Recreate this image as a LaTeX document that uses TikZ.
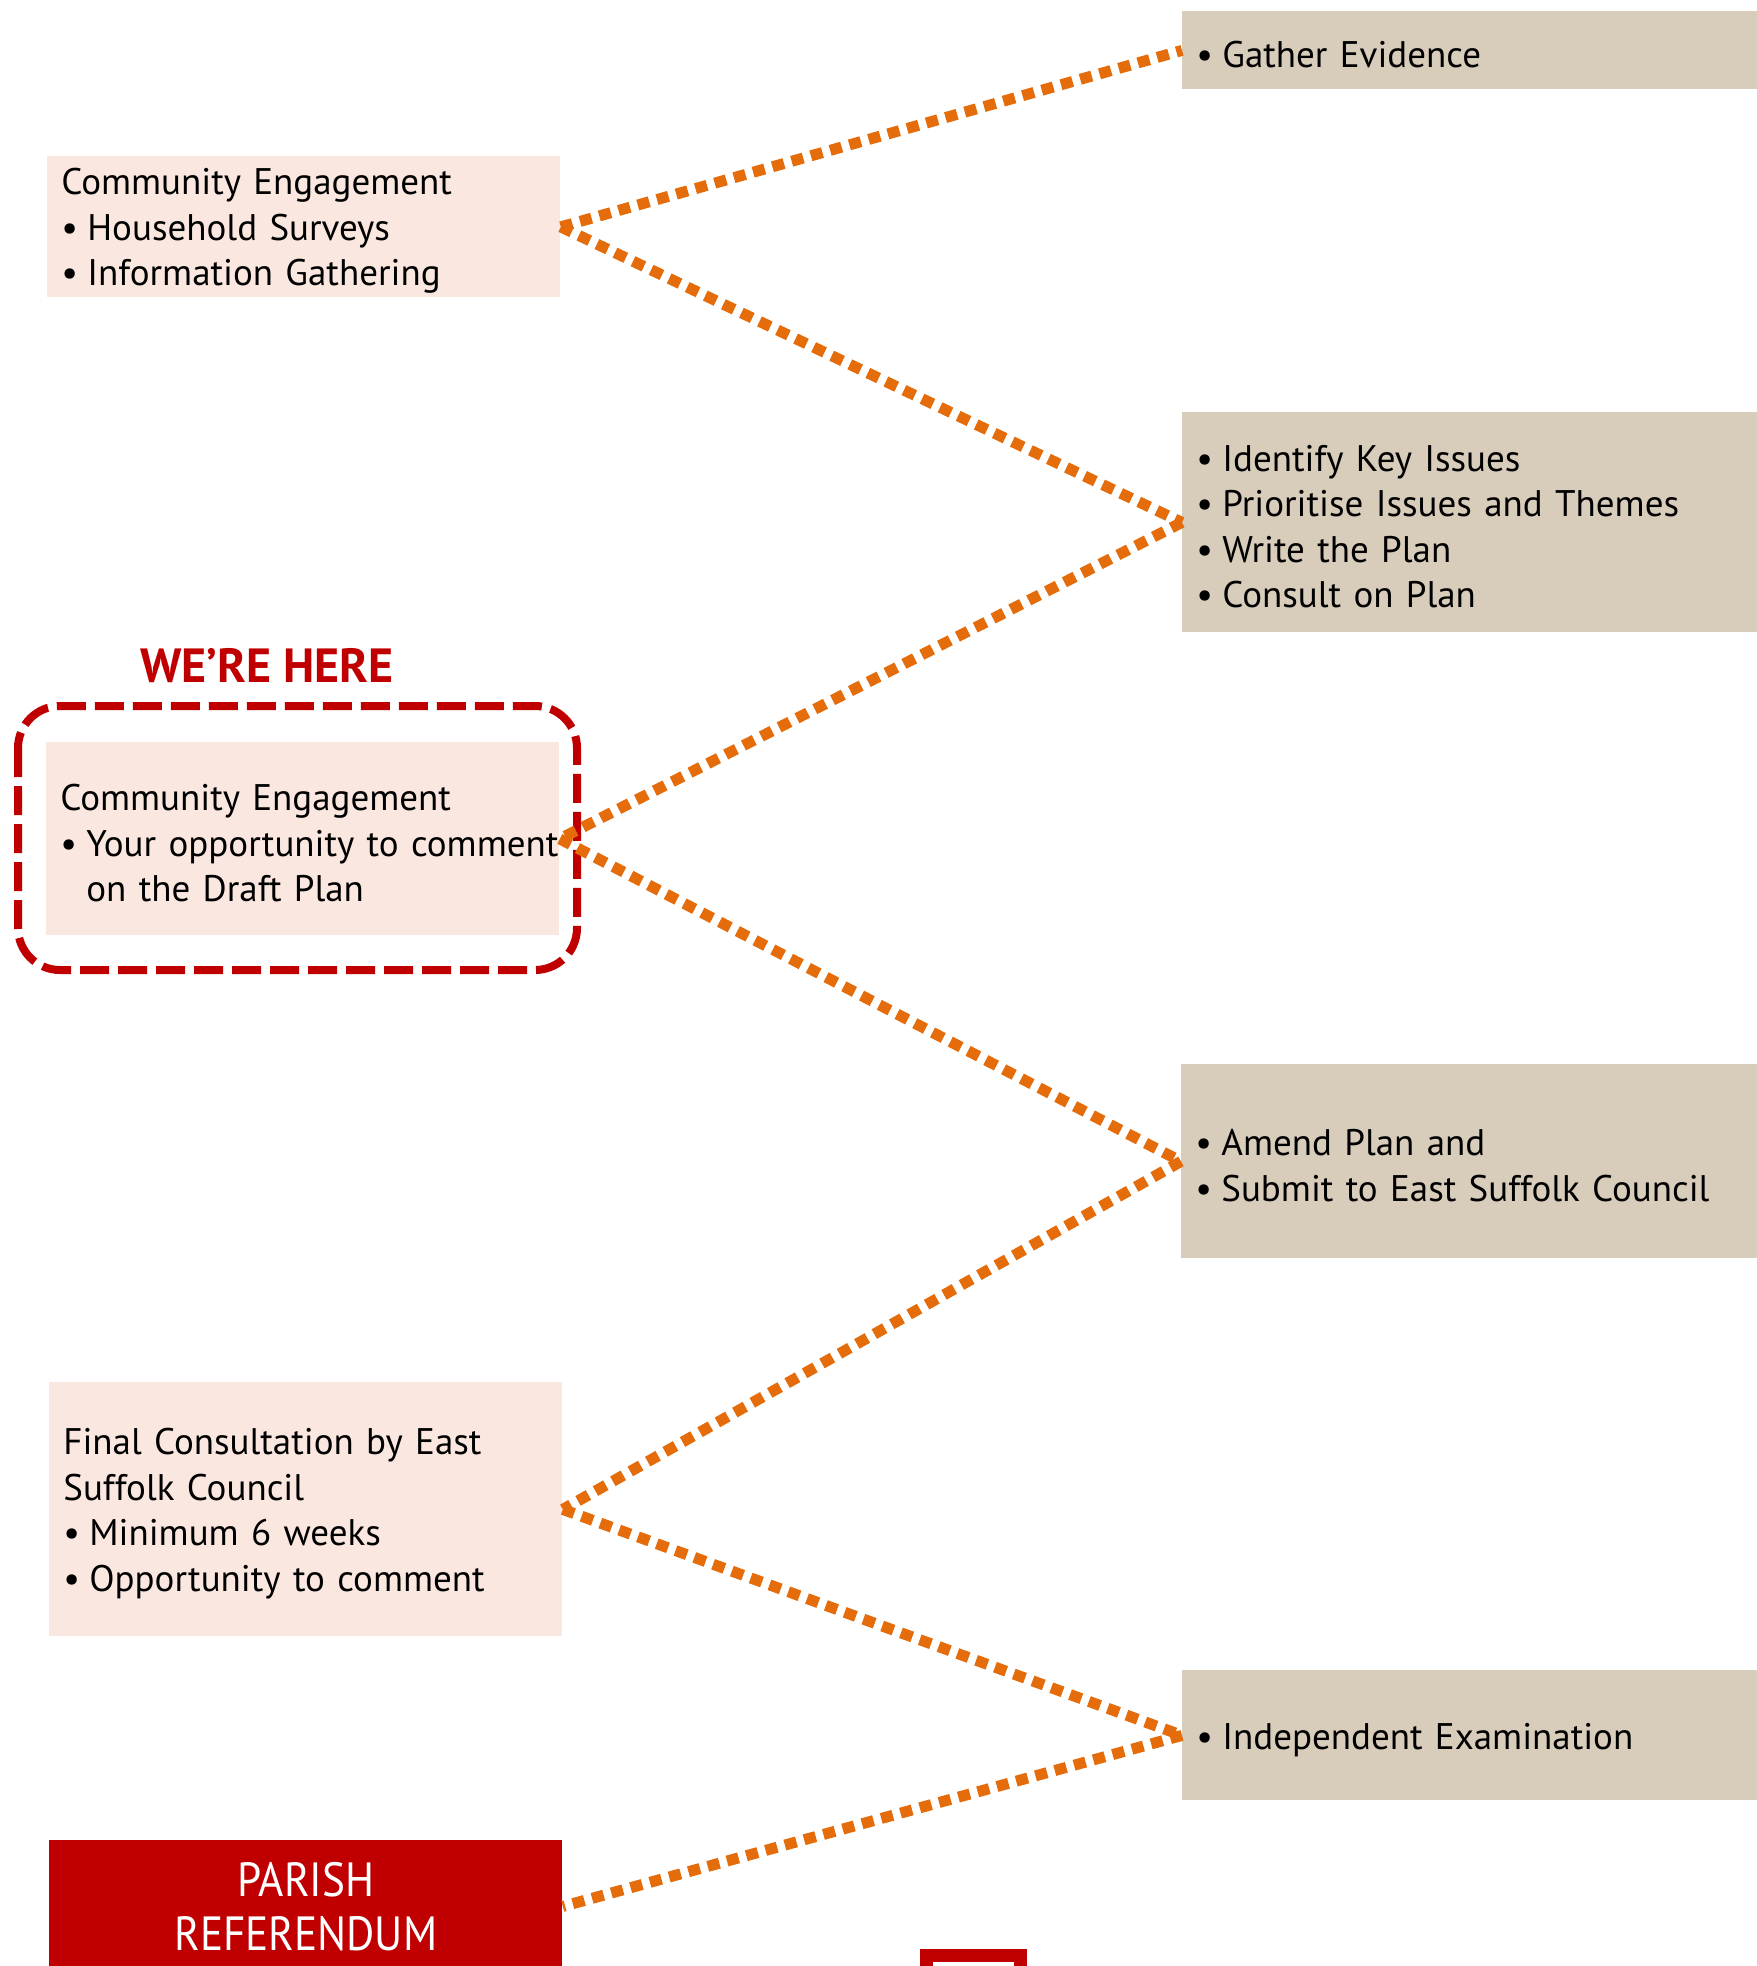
\documentclass[tikz,border=0pt]{standalone}
\usepackage{fontspec}
\setmainfont{PT Sans}
\newfontfamily\narrowfont[FakeStretch=0.9]{PT Sans}
\usetikzlibrary{positioning}
\definecolor{peach}{HTML}{FAE8E0}
\definecolor{sand}{HTML}{D8CCBB}
\definecolor{brick}{HTML}{C00000}
\definecolor{ochre}{HTML}{E46C0A}
\newcommand{\itm}{\makebox[13pt][l]{\textbullet}}

\begin{document}
\begin{tikzpicture}[x=0.5pt,y=-0.5pt,stage/.style={fill=peach,anchor=north west,align=left,inner xsep=7pt,inner ysep=0pt,font=\fontsize{18.5}{22.75}\selectfont,execute at begin node={\rule{0pt}{17.5pt}}},task/.style={stage,fill=sand,text width=280pt},link/.style={draw=ochre,line width=5.5pt,dash pattern=on 6pt off 4pt}]
\useasboundingbox (0,0) rectangle (1757,1966);
\clip (0,0) rectangle (1757,1966);
\node[stage,text width=242.5pt,minimum height=70.5pt] (survey) at (47,156) {Community Engagement\\\itm Household Surveys\\\itm Information Gathering};
\node[task,minimum height=39pt] (evidence) at (1182,11) {\itm Gather Evidence};
\node[task,minimum height=110pt] (issues) at (1182,412) {\itm Identify Key Issues\\\itm Prioritise Issues and Themes\\\itm Write the Plan\\\itm Consult on Plan};
\node[text=brick,font=\fontsize{24}{28}\selectfont\bfseries] (here) at (267,666) {WE’RE HERE};
\node[stage,text width=242.5pt,minimum height=96.5pt] (draft) at (46,742) {Community Engagement\\\itm \mbox{Your opportunity to comment}\\\hspace*{13pt}on the Draft Plan};
\draw[brick,line width=4pt,dash pattern=on 14.5pt off 4.5pt,rounded corners=21pt] (18,706) rectangle (577,970);
\node[task,minimum height=97pt] (submit) at (1181,1064) {\itm Amend Plan and\\\itm Submit to East Suffolk Council};
\node[stage,text width=242.5pt,minimum height=127pt] (final) at (49,1382) {Final Consultation by East\\Suffolk Council\\\itm Minimum 6 weeks\\\itm Opportunity to comment};
\node[task,minimum height=65pt] (exam) at (1182,1670) {\itm Independent Examination};
\node[fill=brick,text=white,anchor=north west,minimum width=256.5pt,minimum height=66pt,align=center,font=\narrowfont\fontsize{24}{27}\selectfont] (vote) at (49,1840) {PARISH\\REFERENDUM};
\draw[link] (survey.east) -- (evidence.west);
\draw[link] (survey.east) -- (issues.west);
\draw[link] (issues.west) -- (draft.east);
\draw[link] (draft.east) -- (submit.west);
\draw[link] (submit.west) -- (final.east);
\draw[link] (final.east) -- (exam.west);
\draw[link] (exam.west) -- (vote.east);
\draw[brick,line width=6.5pt] (926.5,1955.5) rectangle (1020.5,2020);
\end{tikzpicture}
\end{document}
